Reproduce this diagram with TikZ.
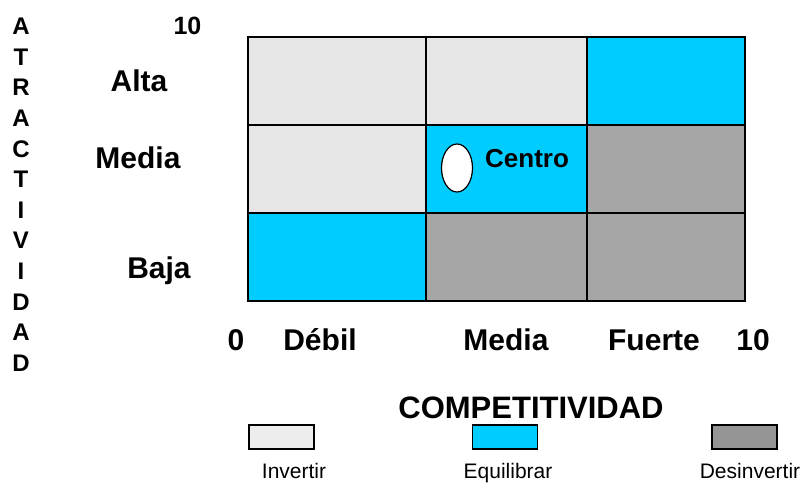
\documentclass[tikz,border=0pt]{standalone}
\usepackage{fontspec}
\setmainfont{Liberation Sans}
\usepackage{tikz}
\usetikzlibrary{positioning, shapes.geometric}

\definecolor{invgray}{HTML}{E6E6E6}
\definecolor{equcyan}{HTML}{00CCFF}
\definecolor{desgray}{HTML}{A6A6A6}

\begin{document}
\begin{tikzpicture}[x=1pt, y=-1pt]

	\tikzstyle{cell}=[draw=black, line width=1.5pt, inner sep=0, outer sep=0, minimum height=88pt];
	\tikzstyle{inv}=[cell, fill=invgray];
	\tikzstyle{equ}=[cell, fill=equcyan];
	\tikzstyle{des}=[cell, fill=desgray];
	\tikzstyle{lab}=[inner sep=0, font=\fontsize{30}{36}\selectfont\bfseries];
	\tikzstyle{key}=[draw=black, line width=1.2pt, inner sep=0, minimum width=65pt, minimum height=24pt];
	\tikzstyle{keylab}=[inner sep=0, font=\fontsize{21}{25}\selectfont];

	\useasboundingbox (0,0) rectangle (802,484);

	% matrix of cells
	\node (alta debil) [inv, minimum width=178pt, anchor=north west] at (248,37) {};
	\node (alta media) [inv, minimum width=161pt, right=0pt of alta debil] {};
	\node (alta fuerte) [equ, minimum width=158pt, right=0pt of alta media] {};
	\node (media debil) [inv, minimum width=178pt, below=0pt of alta debil] {};
	\node (media media) [equ, minimum width=161pt, right=0pt of media debil] {};
	\node (media fuerte) [des, minimum width=158pt, right=0pt of media media] {};
	\node (baja debil) [equ, minimum width=178pt, below=0pt of media debil] {};
	\node (baja media) [des, minimum width=161pt, right=0pt of baja debil] {};
	\node (baja fuerte) [des, minimum width=158pt, right=0pt of baja media] {};

	\node (centro) [draw=black, ellipse, fill=white, line width=1.2pt, inner sep=0, minimum width=31pt, minimum height=48pt] at (457,168) {};
	\node (centro label) [inner sep=0, anchor=base west, font=\fontsize{26}{30}\selectfont\bfseries] at (485,167) {Centro};

	% vertical axis
	\node (atr label) [inner sep=0, anchor=north, align=center, font=\fontsize{24}{30.6}\selectfont\bfseries] at (21,18) {A\\T\\R\\A\\C\\T\\I\\V\\I\\D\\A\\D};
	\node (atr max) [lab, anchor=base, font=\fontsize{25}{30}\selectfont\bfseries] at (187.5,35) {10};
	\node (atr alta) [lab, anchor=base] at (139,92) {Alta};
	\node (atr media) [lab, anchor=base] at (138,168) {Media};
	\node (atr baja) [lab, anchor=base] at (159,278) {Baja};

	% horizontal axis
	\node (com min) [lab, anchor=base] at (236,350) {0};
	\node (com debil) [lab, anchor=base] at (320,350) {Débil};
	\node (com media) [lab, anchor=base] at (506,350) {Media};
	\node (com fuerte) [lab, anchor=base] at (654,350) {Fuerte};
	\node (com max) [lab, anchor=base] at (753,350) {10};
	\node (com label) [lab, anchor=base, font=\fontsize{31}{36}\selectfont\bfseries] at (531,418) {COMPETITIVIDAD};

	% legend
	\node (key inv) [key, fill=invgray!70] at (281.5,437) {};
	\node (key equ) [key, fill=equcyan] at (505,437) {};
	\node (key des) [key, fill=desgray!90!black] at (744.5,437) {};
	\node (key inv label) [keylab, anchor=base] at (294,478) {Invertir};
	\node (key equ label) [keylab, anchor=base] at (508,478) {Equilibrar};
	\node (key des label) [keylab, anchor=base] at (750,478) {Desinvertir};

\end{tikzpicture}
\end{document}
